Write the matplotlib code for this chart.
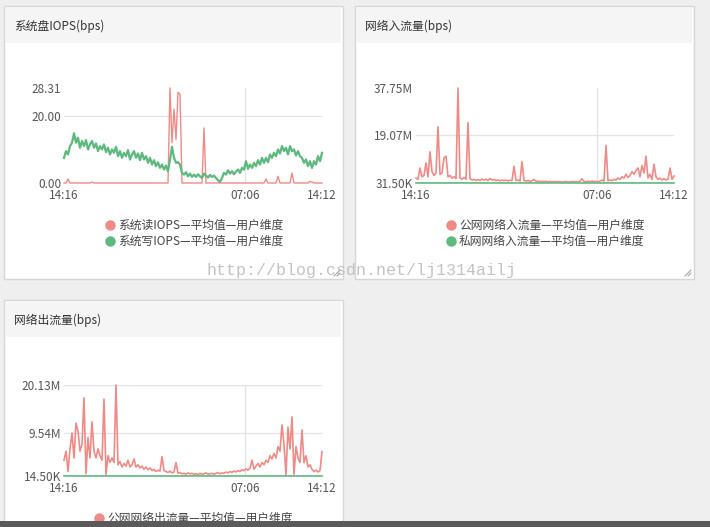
import numpy as np
import matplotlib
matplotlib.use("Agg")
import matplotlib.pyplot as plt
from matplotlib.patches import Rectangle

plt.rcParams['font.family'] = ['Noto Sans CJK SC', 'DejaVu Sans']

# ---------------- data ----------------
time_start_label = "14:16"
time_mid_label = "07:06"
time_end_label = "14:12"
span_minutes = 1436        # 14:16 -> 14:12 next day
mid_minutes = 1010         # 14:16 -> 07:06

panel_titles = ["系统盘IOPS(bps)", "网络入流量(bps)", "网络出流量(bps)"]

disk_legend = ["系统读IOPS—平均值—用户维度", "系统写IOPS—平均值—用户维度"]
in_legend = ["公网网络入流量—平均值—用户维度", "私网网络入流量—平均值—用户维度"]
out_legend = ["公网网络出流量—平均值—用户维度"]

disk_ticks = [0.0, 20.0, 28.31]
disk_ticklabels = ["0.00", "20.00", "28.31"]
in_ticks = [0.0315, 19.07, 37.75]
in_ticklabels = ["31.50K", "19.07M", "37.75M"]
out_ticks = [0.0145, 9.54, 20.13]
out_ticklabels = ["14.50K", "9.54M", "20.13M"]

# 系统读IOPS
disk_read = [
    0, 0, 1.2, 0, 0, 0, 0, 0, 0, 0,
    0, 0, 0, 0, 0.3, 0, 0, 0, 0, 0,
    0, 0, 0, 0, 0, 0, 0, 0, 0, 0,
    0, 0, 0, 0, 0, 0, 0, 0, 0, 0,
    0, 0, 0, 0, 0, 0, 0, 0, 0, 0,
    0, 0, 0, 28.31, 12, 22, 13, 27, 26.5, 0,
    0, 0, 0, 0, 0, 0, 0, 0, 0, 0,
    16.4, 0, 0, 0, 0, 0, 0, 0, 0, 0,
    0, 0, 0, 0, 0, 0, 0, 0, 0, 0,
    0, 0, 0, 0, 0, 0, 0, 0, 0, 0,
    0, 1.2, 0, 0, 0, 0, 0, 2, 0, 0,
    0, 0, 0, 0, 3, 0, 0, 0, 0, 0,
    0, 0, 0, 0.5, 0.3, 0, 0, 0, 0, 0,
]
# 系统写IOPS
disk_write = [
    7.5, 9.5, 8.5, 11, 12, 14.8, 12, 13.5, 10.5, 12.5,
    11, 12.8, 10, 11.5, 12.5, 10.5, 11.8, 9.5, 11, 10,
    11.5, 9.2, 10.5, 8.5, 10, 9, 10.8, 8, 9.5, 7.5,
    9, 8, 9.8, 7, 8.5, 9.5, 7.5, 8.8, 6.8, 9,
    7, 8, 6, 7.5, 5.5, 6.8, 5, 6.2, 4.5, 5.5,
    4, 5.2, 3.5, 7, 10.8, 7.5, 6, 6.2, 5.5, 3,
    2.5, 3.2, 2, 2.8, 1.8, 2.5, 1.8, 2.6, 2, 1.5,
    2.8, 2.2, 1.6, 2.4, 1.8, 2.2, 1.5, 0.8, 0.3, 1.5,
    3, 2.5, 3.8, 2.8, 3.5, 2.6, 3.4, 4, 3, 4.5,
    4, 6.5, 4.2, 5.5, 4.5, 6, 5, 6.8, 5.5, 7.5,
    6, 7.5, 6.2, 8.5, 7.5, 9, 8, 10, 8.8, 11,
    9.5, 10.5, 8.5, 11, 9.5, 10, 8.2, 9.5, 8, 7.5,
    6, 7, 5, 6.5, 4.5, 6.5, 5.5, 8, 6.5, 9,
]
# 公网网络入流量 (M)
in_public = [
    2, 1.5, 6, 2.5, 3, 8, 2.5, 12.4, 4.5, 3,
    4, 22.4, 3.5, 4, 10, 10.7, 2.5, 3, 2, 2.5,
    1.8, 37.75, 2, 1.5, 2.2, 1.5, 24, 1.8, 1.2, 1.5,
    1, 1.4, 1, 1.6, 1.2, 1.5, 1, 1.8, 1.2, 1.4,
    1, 1.3, 0.9, 1.2, 1, 1.2, 0.9, 1.1, 1, 6.7,
    1, 1.2, 0.8, 8.5, 1, 0.8, 1, 0.7, 0.9, 1.5,
    0.7, 0.8, 0.6, 0.7, 0.6, 0.7, 0.5, 0.6, 0.5, 0.6,
    0.5, 0.6, 0.5, 0.4, 0.5, 0.6, 0.4, 0.5, 0.6, 0.5,
    0.6, 0.5, 0.7, 1.7, 0.6, 0.5, 0.7, 0.6, 0.8, 0.6,
    0.7, 0.5, 0.8, 1.2, 0.8, 15, 0.9, 1.2, 1, 1.5,
    1.2, 2, 1.5, 2.5, 2, 3.5, 2.2, 3, 4.5, 3.5,
    5, 6, 2.5, 7, 4, 10.7, 2, 3.5, 1.5, 7.5,
    2.5, 1.5, 2, 1.2, 1.8, 1.2, 1.5, 6, 1.5, 2.8,
]
# 私网网络入流量 (M)
in_private = [0.05, 0.04, 0.05, 0.04, 0.04, 0.05, 0.04, 0.04, 0.05, 0.04, 0.05]
# 公网网络出流量 (M)
out_public = [
    3.5, 5.5, 1, 6, 9.5, 4, 11.7, 10, 5.5, 7,
    17.3, 0.5, 8.5, 4, 12, 5.5, 4, 6, 4.5, 3.5,
    17, 0.3, 4.5, 3, 4, 3, 20.13, 2.5, 3.2, 2,
    2.8, 2.2, 3.5, 2, 2.5, 3.8, 2, 2.5, 1.8, 2.2,
    1.5, 2, 1.4, 1.8, 1.2, 1.5, 1, 1.3, 1.1, 4.3,
    1.2, 1, 0.8, 1.1, 0.7, 0.9, 3, 0.6, 0.8, 0.5,
    0.6, 0.4, 0.7, 0.5, 0.6, 0.4, 0.5, 0.3, 0.6, 0.4,
    0.5, 0.7, 0.4, 0.5, 0.6, 0.4, 0.6, 0.8, 0.5, 0.7,
    0.6, 0.9, 0.7, 1, 0.8, 1.1, 0.9, 1.2, 1, 1.4,
    1.2, 1.6, 1.3, 1.8, 3.5, 1.5, 2.2, 2.8, 2, 3,
    2.5, 3.5, 3, 4.5, 3.8, 5, 4, 6.5, 5.5, 11.3,
    7, 0.2, 10.8, 6, 13.1, 0.3, 6.5, 4, 3, 10.2,
    3, 4.5, 2, 2.5, 1.5, 1, 1.3, 0.9, 1.2, 5.4,
]
out_private = [0.03, 0.02, 0.03, 0.02, 0.02, 0.03, 0.02, 0.02, 0.03, 0.02, 0.03]

# ---------------- style ----------------
RED = "#F08A86"
GREEN = "#5DB97E"
BG = "#EFEFEF"
HEADER = "#F5F5F5"
BORDER = "#D6D6D6"
TXT = "#333333"
TICK = "#555555"
GRID = "#E3E3E3"

W, H = 710, 527
fig = plt.figure(figsize=(W / 100, H / 100), dpi=100, facecolor=BG)

bg = fig.add_axes([0, 0, 1, 1], zorder=0)
bg.set_xlim(0, W)
bg.set_ylim(H, 0)
bg.axis("off")

def panel(x0, y0, x1, y1, title):
    bg.add_patch(Rectangle((x0, y0), x1 - x0, y1 - y0, facecolor="white",
                           edgecolor=BORDER, linewidth=1.0))
    bg.add_patch(Rectangle((x0 + 2, y0 + 2), x1 - x0 - 4, 35, facecolor=HEADER,
                           edgecolor="none"))
    bg.text(x0 + 10, y0 + 20, title, fontsize=8.5, color=TXT, va="center", ha="left")

panel(4, 6, 343, 279, panel_titles[0])
panel(355, 6, 694, 279, panel_titles[1])
panel(4, 300, 343, 540, panel_titles[2])

def legend(cx, ys, labels, colors):
    for y, lab, c in zip(ys, labels, colors):
        bg.plot([cx], [y], marker="o", markersize=7.5, color=c, markeredgewidth=0)
        bg.text(cx + 8, y, lab, fontsize=8.5, color="#444444", va="center", ha="left")

legend(110, [225, 241], disk_legend, [RED, GREEN])
legend(451, [225, 241], in_legend, [RED, GREEN])
legend(99, [518], out_legend, [RED])

# resize handles
for (hx, hy) in [(340, 276), (691, 276)]:
    for d in (3, 6):
        bg.plot([hx - d, hx], [hy, hy - d], color="#999999", lw=0.7)

def make_axes(px0, py0, px1, py1):
    ax = fig.add_axes([px0 / W, 1 - py1 / H, (px1 - px0) / W, (py1 - py0) / H], zorder=2)
    ax.patch.set_alpha(0)
    for s in ax.spines.values():
        s.set_visible(False)
    ax.set_xlim(0, span_minutes)
    ax.set_xticks([0, mid_minutes, span_minutes])
    ax.set_xticklabels([time_start_label, time_mid_label, time_end_label])
    ax.tick_params(axis="both", length=0, labelsize=8.5, colors=TICK)
    ax.tick_params(axis="x", pad=4)
    ax.tick_params(axis="y", pad=2)
    ax.axvline(mid_minutes, color=GRID, lw=0.9, zorder=0)
    return ax

def tx(n):
    return np.linspace(0, span_minutes, n)

# chart 1
ax1 = make_axes(64, 88, 322, 183)
ax1.set_ylim(disk_ticks[0], disk_ticks[-1])
ax1.set_yticks(disk_ticks)
ax1.set_yticklabels(disk_ticklabels)
ax1.axhline(disk_ticks[1], color=GRID, lw=0.9, zorder=0)
ax1.plot(tx(len(disk_read)), disk_read, color=RED, lw=1.0, clip_on=False, zorder=2)
ax1.plot(tx(len(disk_write)), disk_write, color=GREEN, lw=1.6, clip_on=False, zorder=3)

# chart 2
ax2 = make_axes(416, 88, 674, 183)
ax2.set_ylim(in_ticks[0], in_ticks[-1])
ax2.set_yticks(in_ticks)
ax2.set_yticklabels(in_ticklabels)
ax2.axhline(in_ticks[1], color=GRID, lw=0.9, zorder=0)
ax2.plot(tx(len(in_public)), in_public, color=RED, lw=1.2, clip_on=False, zorder=2)
ax2.plot(tx(len(in_private)), in_private, color=GREEN, lw=1.2, clip_on=False, zorder=3)

# chart 3
ax3 = make_axes(64, 385, 322, 476)
ax3.set_ylim(out_ticks[0], out_ticks[-1])
ax3.set_yticks(out_ticks)
ax3.set_yticklabels(out_ticklabels)
ax3.axhline(out_ticks[1], color=GRID, lw=0.9, zorder=0)
ax3.axhline(out_ticks[2], color=GRID, lw=0.9, zorder=0)
ax3.plot(tx(len(out_public)), out_public, color=RED, lw=1.2, clip_on=False, zorder=2)
ax3.plot(tx(len(out_private)), out_private, color=GREEN, lw=1.2, clip_on=False, zorder=3)

# overlay: watermark + bottom bar
ov = fig.add_axes([0, 0, 1, 1], zorder=5)
ov.set_xlim(0, W)
ov.set_ylim(H, 0)
ov.axis("off")
ov.patch.set_alpha(0)
ov.text(362, 270, "http://blog.csdn.net/lj1314ailj", family="Liberation Mono",
        fontsize=12, color="#BDBDBD", ha="center", va="center", alpha=0.9)
ov.add_patch(Rectangle((0, 521), W, 6, facecolor="#5A5A5A", edgecolor="none"))

fig.savefig("out.png", dpi=100, facecolor=BG)
